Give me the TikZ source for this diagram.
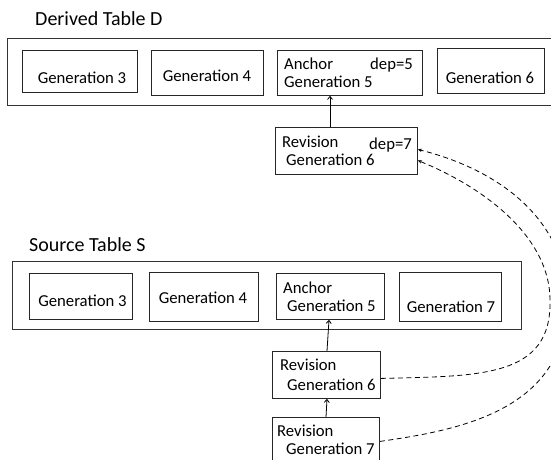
\documentclass[tikz,border=0pt]{standalone}
\usepackage{fontspec}
\setmainfont{Carlito}
\usetikzlibrary{arrows.meta}
\tikzset{
  outerbox/.style={draw=black!80, line width=1.1pt, rectangle, inner sep=0pt, anchor=north west},
  genbox/.style={draw=black!85, line width=0.85pt, rectangle, inner sep=0pt, anchor=north west},
  lbl/.style={inner sep=0pt, font=\fontsize{16.7}{18}\selectfont},
  ttl/.style={inner sep=0pt, anchor=base west, font=\fontsize{20}{22}\selectfont},
  link/.style={line width=0.8pt, -{Straight Barb[length=3pt,width=5pt]}},
  deplink/.style={line width=0.8pt, dash pattern=on 5pt off 3.5pt, -{Stealth[length=4pt,width=3.5pt]}}
}
\begin{document}
\begin{tikzpicture}[x=1pt,y=-1pt]
\useasboundingbox (0,0) rectangle (551,460);
\clip (0,0) rectangle (551,460);
% ---------- Derived table D ----------
\node[ttl] (tD) at (35,26) {Derived Table D};
\node[outerbox, minimum width=613pt, minimum height=67pt] (oD) at (7,38) {};
\node[genbox, minimum width=115pt, minimum height=42pt] (g3d) at (22,50) {};
\node[genbox, minimum width=112pt, minimum height=45pt] (g4d) at (151,50) {};
\node[genbox, minimum width=145pt, minimum height=45pt] (a5d) at (277,50) {};
\node[genbox, minimum width=107pt, minimum height=45pt] (g6d) at (437,48) {};
\node[genbox, minimum width=142pt, minimum height=47pt] (r6d) at (275,127) {};
\node[lbl, anchor=base] (g3dt) at (82,83) {Generation 3};
\node[lbl, anchor=base] (g4dt) at (207,81.5) {Generation 4};
\node[lbl, anchor=base west] (a5da) at (284,69.5) {Anchor};
\node[lbl, anchor=base east] (a5dd) at (413,69.5) {dep=5};
\node[lbl, anchor=base west] (a5dg) at (284,87.5) {Generation 5};
\node[lbl, anchor=base] (g6dt) at (490,83.5) {Generation 6};
\node[lbl, anchor=base west] (r6dr) at (282,147.5) {Revision};
\node[lbl, anchor=base east] (r6dd) at (412,149.5) {dep=7};
\node[lbl, anchor=base west] (r6dg) at (286,165.5) {Generation 6};
\draw[link] ([xshift=55pt]r6d.north west) -- ([xshift=55pt]r6d.north west |- a5d.south);
% ---------- Source table S ----------
\node[ttl] (tS) at (29,251.5) {Source Table S};
\node[outerbox, minimum width=509pt, minimum height=68pt] (oS) at (12,261) {};
\node[genbox, minimum width=103pt, minimum height=46pt] (g3s) at (29,273) {};
\node[genbox, minimum width=109pt, minimum height=49pt] (g4s) at (149,272) {};
\node[genbox, minimum width=108pt, minimum height=46pt] (a5s) at (276,273) {};
\node[genbox, minimum width=102pt, minimum height=49pt] (g7s) at (399,272) {};
\node[genbox, minimum width=108pt, minimum height=47pt] (r6s) at (272,351) {};
\node[genbox, minimum width=107pt, minimum height=48pt] (r7s) at (272,417) {};
\node[lbl, anchor=base] (g3st) at (82.5,306) {Generation 3};
\node[lbl, anchor=base] (g4st) at (203,303.5) {Generation 4};
\node[lbl, anchor=base west] (a5sa) at (283,293.5) {Anchor};
\node[lbl, anchor=base west] (a5sg) at (287,311.5) {Generation 5};
\node[lbl, anchor=base] (g7st) at (451,312.5) {Generation 7};
\node[lbl, anchor=base west] (r6sr) at (280,370) {Revision};
\node[lbl, anchor=base west] (r6sg) at (287,390.5) {Generation 6};
\node[lbl, anchor=base west] (r7sr) at (277,436.5) {Revision};
\node[lbl, anchor=base west] (r7sg) at (286,454) {Generation 7};
\draw[link] ([xshift=55pt]r6s.north west) -- ([xshift=57pt]r6s.north west |- a5s.south);
\draw[link] ([xshift=54pt]r7s.north west) -- ([xshift=55pt]r7s.north west |- r6s.south);
% ---------- dependency links ----------
\draw[deplink] ([yshift=-3.5pt]r6s.east) .. controls (480,376) and (552,378) .. (550,300)
  .. controls (550,240) and (490,190) .. ([yshift=-9.5pt]r6d.east);
\draw[deplink] (r7s.east) .. controls (460,430) and (568,410) .. (567,300)
  .. controls (566,220) and (500,170) .. ([yshift=1.5pt]r6d.east);
\end{tikzpicture}
\end{document}
